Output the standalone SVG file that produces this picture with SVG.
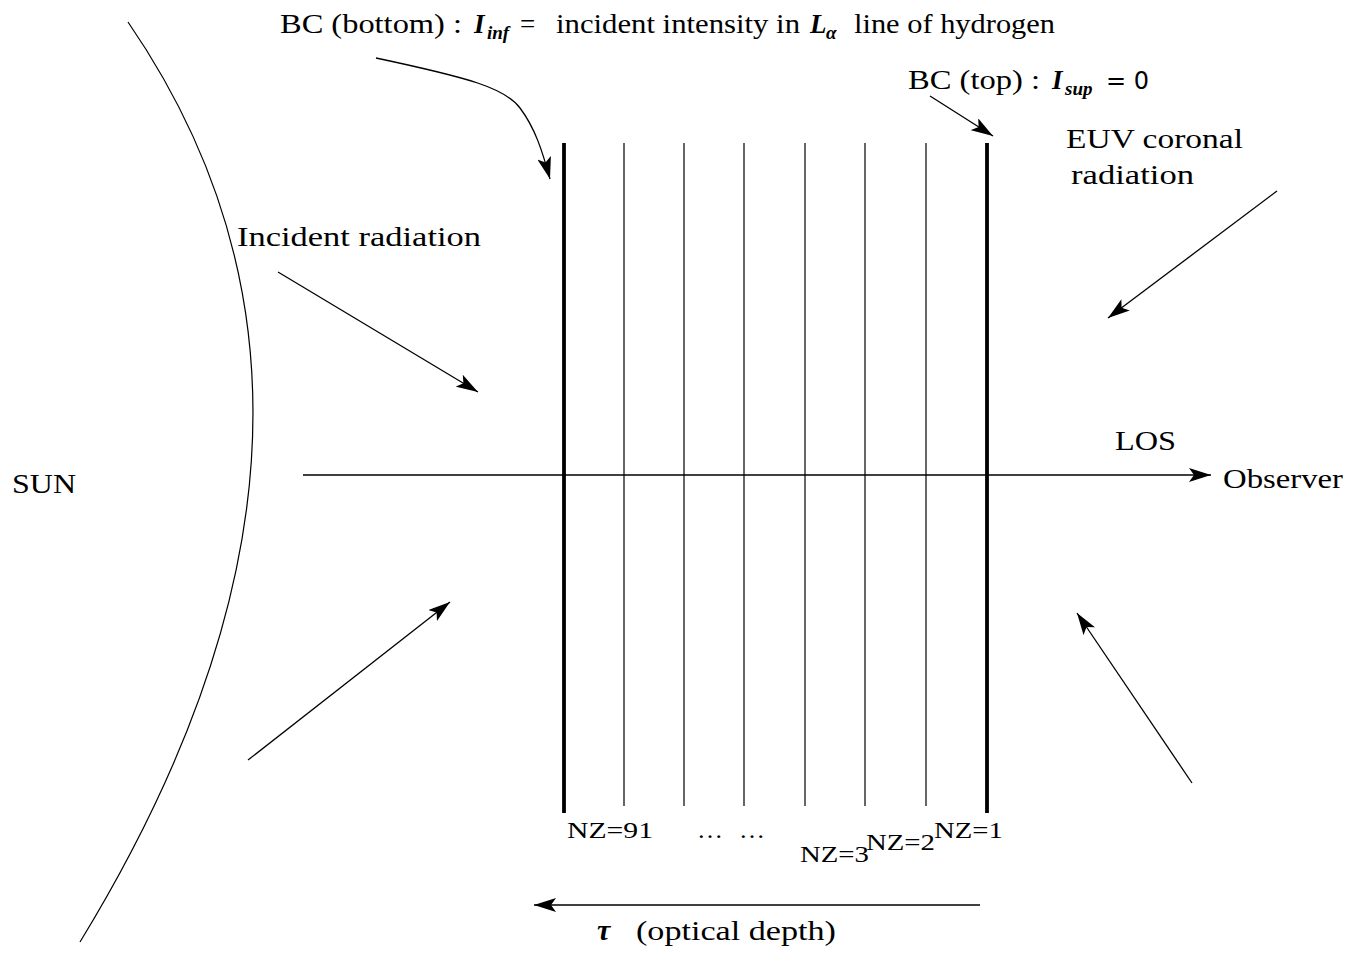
<svg xmlns="http://www.w3.org/2000/svg" width="1363" height="953" viewBox="0 0 1363 953">
<style>
text{font-family:"Liberation Serif","DejaVu Serif",serif;font-size:27px;fill:#000}
.m{font-style:italic;font-weight:bold}
.s{font-size:19px}
.nz{font-size:23px}
.thin{stroke:#000;stroke-width:1.2;fill:none}
.thick{stroke:#000;stroke-width:3.8;fill:none}
.ar{stroke:#000;stroke-width:1.3;fill:none;marker-end:url(#ah)}
</style>
<defs>
<marker id="ah" markerUnits="userSpaceOnUse" markerWidth="24" markerHeight="14" refX="22" refY="7" orient="auto">
<path d="M0,0 L22,7 L0,14 L5,7 Z" fill="#000"/>
</marker>
</defs>
<g id="sun">
<path class="thin" d="M128,22 Q400,418 80,942"/>
<text x="12" y="493" textLength="64" lengthAdjust="spacingAndGlyphs">SUN</text>
</g>
<g id="slab">
<line class="thick" x1="564" y1="143" x2="564" y2="813"/>
<line class="thin" x1="624" y1="143" x2="624" y2="806"/>
<line class="thin" x1="684" y1="143" x2="684" y2="806"/>
<line class="thin" x1="744" y1="143" x2="744" y2="806"/>
<line class="thin" x1="805" y1="143" x2="805" y2="806"/>
<line class="thin" x1="865" y1="143" x2="865" y2="806"/>
<line class="thin" x1="926" y1="143" x2="926" y2="806"/>
<line class="thick" x1="987" y1="143" x2="987" y2="813"/>
<text class="nz" x="567" y="838" textLength="86" lengthAdjust="spacingAndGlyphs">NZ=91</text>
<text class="nz" x="697" y="838" textLength="26" lengthAdjust="spacingAndGlyphs">…</text>
<text class="nz" x="739" y="838" textLength="26" lengthAdjust="spacingAndGlyphs">…</text>
<text class="nz" x="800" y="862" textLength="69" lengthAdjust="spacingAndGlyphs">NZ=3</text>
<text class="nz" x="866" y="850" textLength="69" lengthAdjust="spacingAndGlyphs">NZ=2</text>
<text class="nz" x="934" y="838" textLength="69" lengthAdjust="spacingAndGlyphs">NZ=1</text>
</g>
<g id="connectors">
<line class="ar" x1="303" y1="475" x2="1211" y2="475"/>
<line class="ar" x1="980" y1="905" x2="534" y2="905"/>
<line class="ar" x1="278" y1="272" x2="478" y2="392"/>
<line class="ar" x1="248" y1="760" x2="450" y2="602"/>
<line class="ar" x1="1277" y1="191" x2="1108" y2="318"/>
<line class="ar" x1="1192" y1="783" x2="1077" y2="613"/>
<path class="ar" d="M376,58 C470,78 505,88 520,108 C535,128 542,150 550,179"/>
<line class="ar" x1="930" y1="96" x2="993" y2="136"/>
</g>
<g id="labels">
<text x="280" y="33" textLength="182" lengthAdjust="spacingAndGlyphs">BC (bottom) :</text>
<text x="474" y="33" class="m">I</text>
<text x="487" y="39" class="m s">inf</text>
<text x="520" y="33">=</text>
<text x="556" y="33" textLength="244" lengthAdjust="spacingAndGlyphs">incident intensity in</text>
<text x="810" y="33" class="m">L</text>
<text x="826" y="39" class="m s">α</text>
<text x="854" y="33" textLength="201" lengthAdjust="spacingAndGlyphs">line of hydrogen</text>
<text x="908" y="89" textLength="132" lengthAdjust="spacingAndGlyphs">BC (top) :</text>
<text x="1052" y="89" class="m">I</text>
<text x="1065" y="95" class="m s">sup</text>
<text x="1106" y="89" style="font-family:'DejaVu Sans',sans-serif;font-size:24px">= 0</text>
<text x="237" y="246" textLength="244" lengthAdjust="spacingAndGlyphs">Incident radiation</text>
<text x="1066" y="148" textLength="177" lengthAdjust="spacingAndGlyphs">EUV coronal</text>
<text x="1071" y="184" textLength="123" lengthAdjust="spacingAndGlyphs">radiation</text>
<text x="1115" y="450" textLength="61" lengthAdjust="spacingAndGlyphs">LOS</text>
<text x="1223" y="488" textLength="120" lengthAdjust="spacingAndGlyphs">Observer</text>
<text x="597" y="940" class="m" style="font-size:30px">τ</text>
<text x="636" y="940" textLength="200" lengthAdjust="spacingAndGlyphs">(optical depth)</text>
</g>
</svg>
